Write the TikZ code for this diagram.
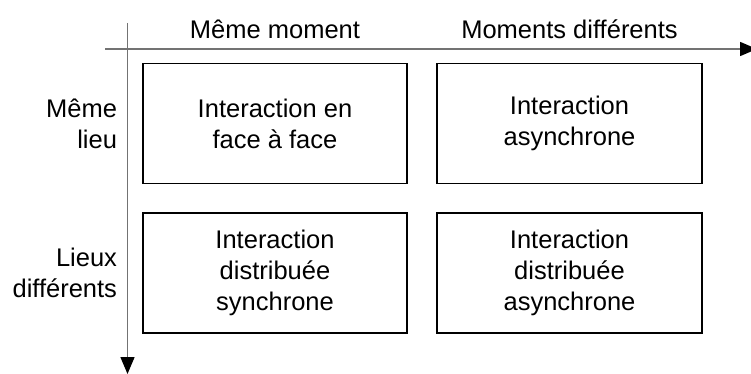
\documentclass[tikz,border=0pt]{standalone}
\usepackage{fontspec}
\setmainfont{Liberation Sans}
\usetikzlibrary{arrows.meta}
\begin{document}
\begin{tikzpicture}[x=1pt,y=-1pt,
  txt/.style={font=\fontsize{25.5}{31}\selectfont, inner sep=0pt, outer sep=0pt},
  cell/.style={txt, draw=black, line width=1.2pt, align=center,
               minimum width=264pt, minimum height=120pt},
  axis/.style={draw=black!55, line width=1.5pt,
               -{Triangle[length=17pt,width=14pt,color=black,fill=black]}},
  side/.style={txt, align=right, anchor=east}]
\useasboundingbox (0,0) rectangle (751,374);
% axes
\coordinate (xs) at (105,49);
\coordinate (xe) at (757,49);
\coordinate (ys) at (127.5,23);
\coordinate (ye) at (127.5,374);
\draw[axis] (xs) -- (xe);
\draw[axis] (ys) -- (ye);
% headers
\node[txt, anchor=base] (h1) at (275,39) {Même moment};
\node[txt, anchor=base] (h2) at (569.5,39) {Moments différents};
% side labels
\node[side] (s1) at (117,123.5) {Même\\lieu};
\node[side] (s2) at (117,273) {Lieux\\différents};
% cells
\node[cell] (c1) at (275,123.5) {Interaction en\\face à face};
\node[cell, minimum width=265pt] (c2) at (569.5,123.5) {Interaction\\asynchrone};
\node[cell] (c3) at (275,273) {Interaction\\distribuée\\synchrone};
\node[cell, minimum width=265pt] (c4) at (569.5,273) {Interaction\\distribuée\\asynchrone};
\end{tikzpicture}
\end{document}
